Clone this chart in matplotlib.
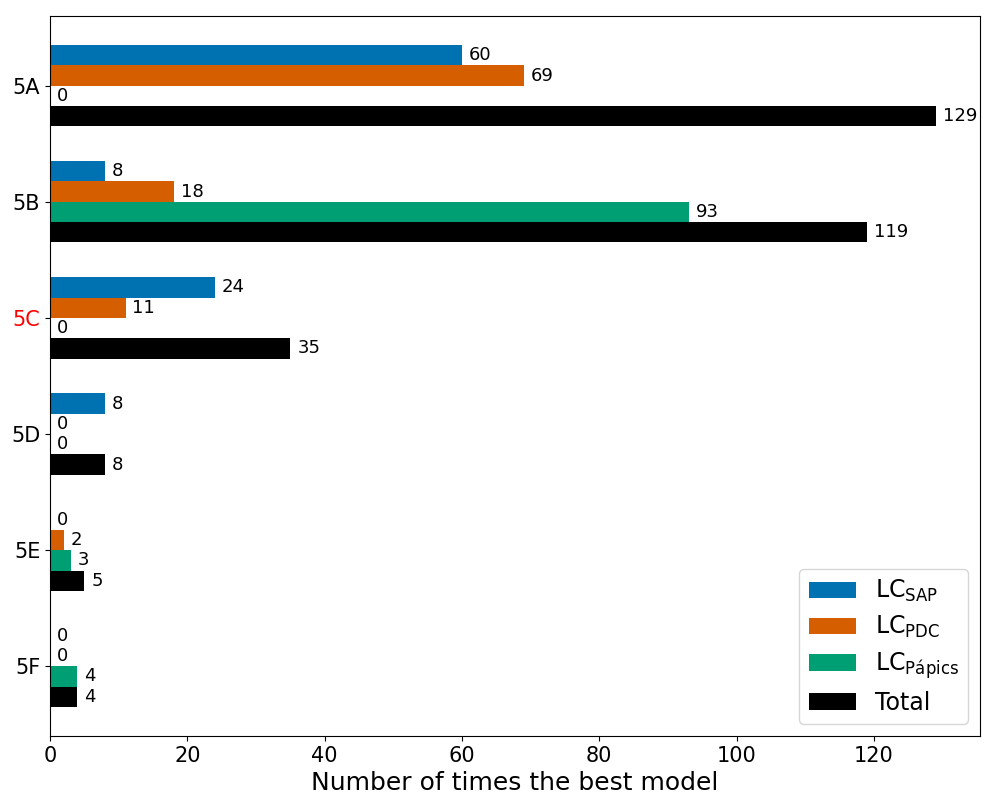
import matplotlib
matplotlib.use("Agg")
import matplotlib.pyplot as plt
import numpy as np

categories = ["5A", "5B", "5C", "5D", "5E", "5F"]
sap = [60, 8, 24, 8, 0, 0]
pdc = [69, 18, 11, 0, 2, 0]
papics = [0, 93, 0, 0, 3, 4]
total = [129, 119, 35, 8, 5, 4]

series = [
    (sap, r"LC$_{\rm SAP}$", "#0072B2"),
    (pdc, r"LC$_{\rm PDC}$", "#D55E00"),
    (papics, r"LC$_{\rm Pápics}$", "#009E73"),
    (total, "Total", "#000000"),
]

fig = plt.figure(figsize=(10, 8), dpi=100)
ax = fig.add_axes([0.05, 0.08, 0.93, 0.90])

y = np.arange(len(categories))
h = 0.175
for i, (vals, lab, col) in enumerate(series):
    bars = ax.barh(y + (i - 1.5) * h, vals, height=h, color=col, label=lab)
    ax.bar_label(bars, padding=5, fontsize=13)

ax.set_yticks(y)
ax.set_yticklabels(categories, fontsize=15)
ax.get_yticklabels()[2].set_color("red")
ax.set_ylim(5.6, -0.6)
ax.tick_params(axis="x", labelsize=15)
ax.set_xlabel("Number of times the best model", fontsize=18)
ax.legend(loc="lower right", fontsize=17, labelspacing=0.415)

fig.savefig("out.png", dpi=100)
